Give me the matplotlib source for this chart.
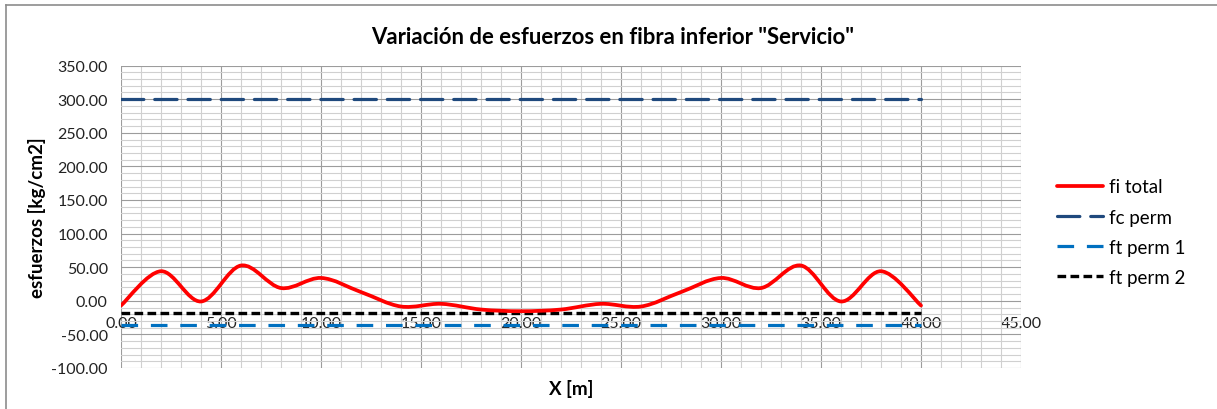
import matplotlib
matplotlib.use("Agg")
import matplotlib.pyplot as plt
import numpy as np
from matplotlib.lines import Line2D
from matplotlib.patches import PathPatch
from matplotlib.path import Path
from matplotlib.ticker import FormatStrFormatter, MultipleLocator

plt.rcParams["font.family"] = ["Lato", "DejaVu Sans"]

# distancia a lo largo de la viga [m] y esfuerzo en fibra inferior [kg/cm2]
x_m = [0, 2, 4, 6, 8, 10, 12, 14, 16, 18, 20, 22, 24, 26, 28, 30, 32, 34, 36, 38, 40]
fi_total = [-7.0, 44.0, -1.0, 52.5, 19.0, 34.0, 13.0, -8.5, -4.5, -13.0, -15.5,
            -13.0, -4.5, -8.5, 13.0, 34.0, 19.0, 52.5, -1.0, 44.0, -7.0]

# esfuerzos admisibles
limit_x = [0, 40]
fc_perm = [300.0, 300.0]
ft_perm_1 = [-35.78, -35.78]
ft_perm_2 = [-17.89, -17.89]

series_labels = ["fi total", "fc perm", "ft perm 1", "ft perm 2"]

RED = "#FF0000"
DARK_BLUE = "#1F497D"
BLUE = "#0070C0"

W, H = 1217, 410
fig = plt.figure(figsize=(W / 100, H / 100), dpi=100)
ax = fig.add_axes([121 / W, (H - 369) / H, (1021 - 121) / W, (369 - 66.6) / H])


def smooth_path(xs, ys):
    # curva suavizada tipo Catmull-Rom con segmentos Bezier cubicos
    pts = np.column_stack([xs, ys]).astype(float)
    ext = np.vstack([pts[0], pts, pts[-1]])
    verts = [pts[0]]
    codes = [Path.MOVETO]
    for i in range(1, len(ext) - 2):
        p0, p1, p2, p3 = ext[i - 1], ext[i], ext[i + 1], ext[i + 2]
        verts += [p1 + (p2 - p0) / 6, p2 - (p3 - p1) / 6, p2]
        codes += [Path.CURVE4] * 3
    return Path(verts, codes)


red_kw = dict(color=RED, lw=2.7, solid_capstyle="round")
fcp_kw = dict(color=DARK_BLUE, lw=2.3, dashes=(7.0, 3.4), dash_capstyle="round")
ft1_kw = dict(color=BLUE, lw=2.3, dashes=(5.2, 4.0), dash_capstyle="butt")
ft2_kw = dict(color="black", lw=2.4, dashes=(2.6, 1.3), dash_capstyle="butt")

ax.add_patch(PathPatch(smooth_path(x_m, fi_total), fill=False, edgecolor=RED,
                       lw=2.7, zorder=5, capstyle="round", joinstyle="round"))
ax.plot(limit_x, fc_perm, zorder=4, **fcp_kw)
ax.plot(limit_x, ft_perm_1, zorder=4, **ft1_kw)
ax.plot(limit_x, ft_perm_2, zorder=4, **ft2_kw)

ax.set_xlim(0, 45)
ax.set_ylim(-100, 350)
ax.xaxis.set_major_locator(MultipleLocator(5))
ax.xaxis.set_minor_locator(MultipleLocator(1))
ax.yaxis.set_major_locator(MultipleLocator(50))
ax.yaxis.set_minor_locator(MultipleLocator(10))
ax.xaxis.set_major_formatter(FormatStrFormatter("%.2f"))
ax.yaxis.set_major_formatter(FormatStrFormatter("%.2f"))

ax.grid(which="major", color="#9C9C9C", lw=0.8, zorder=0)
ax.grid(which="minor", color="#D0D0D0", lw=0.8, zorder=0)
ax.set_axisbelow(True)

for side in ["top", "right", "left"]:
    ax.spines[side].set_visible(False)
ax.spines["bottom"].set_position(("data", 0))
ax.spines["bottom"].set_visible(False)

ax.tick_params(which="both", length=0)
ax.tick_params(axis="x", labelsize=11.5, pad=11, colors="#222222")
ax.tick_params(axis="y", labelsize=11.5, pad=9.5, colors="#222222")

ax.set_xlabel("X [m]", fontsize=13.5, fontweight="bold")
ax.xaxis.set_label_coords(0.5, -0.035)
ax.set_ylabel("esfuerzos [kg/cm2]", fontsize=13.5, fontweight="bold")
ax.yaxis.set_label_coords(-0.083, 0.5)

fig.text(613 / W, 1 - 38 / H, 'Variación de esfuerzos en fibra inferior "Servicio"',
         ha="center", va="center", fontsize=15.9, fontweight="bold")

handles = [
    Line2D([], [], **red_kw),
    Line2D([], [], **fcp_kw),
    Line2D([], [], **ft1_kw),
    Line2D([], [], **ft2_kw),
]
fig.legend(handles, series_labels, loc="upper left",
           bbox_to_anchor=(1049 / W, 1 - 172 / H), frameon=False,
           fontsize=13.5, handlelength=2.5, handletextpad=0.3,
           labelspacing=0.7, borderaxespad=0)

# borde del area del grafico
fig.add_artist(Line2D([5.5 / W, 5.5 / W], [0, 1 - 5.5 / H], color="#8C8C8C", lw=1.2))
fig.add_artist(Line2D([5.5 / W, 1], [1 - 5.5 / H, 1 - 5.5 / H], color="#8C8C8C", lw=1.2))

fig.savefig("out.png", dpi=100)
